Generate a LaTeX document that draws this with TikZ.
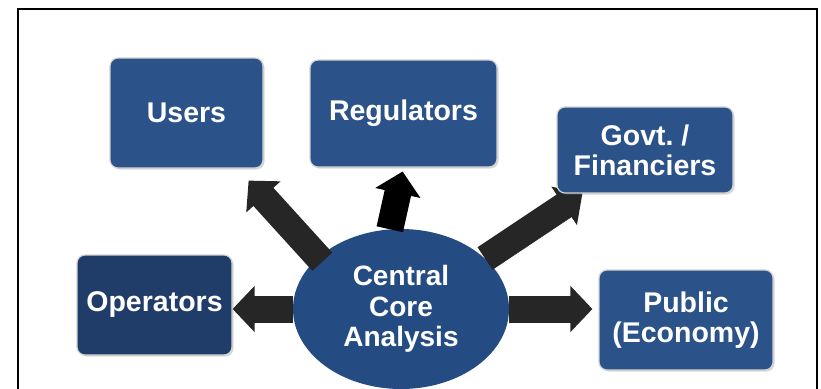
\documentclass[tikz,border=0pt]{standalone}
\usepackage{fontspec}
\setmainfont{Liberation Sans}
\usetikzlibrary{arrows.meta,backgrounds,calc,shadows,shapes.geometric}

\definecolor{partyblue}{HTML}{2B5289}
\definecolor{partydark}{HTML}{203C68}
\definecolor{coreblue}{HTML}{244C82}
\definecolor{shaftgray}{HTML}{262626}

\tikzset{%
  every party/.style={
    rectangle,
    rounded corners=8pt,
    draw=gray!35,
    line width=1.2pt,
    fill=partyblue,
    text=white,
    align=center,
    inner sep=0pt,
    font=\fontsize{28.5}{30}\selectfont\bfseries\frenchspacing,
    drop shadow={shadow xshift=1.5pt, shadow yshift=-1.5pt, opacity=0.3}
  },
  party dark/.style={
    fill=partydark
  },
  core hub/.style={
    ellipse,
    fill=coreblue,
    text=white,
    align=center,
    inner sep=0pt,
    minimum width=216pt,
    minimum height=160pt,
    font=\fontsize{28}{30.5}\selectfont\bfseries
  },
  fat arrow/.style={
    line width=27pt,
    draw=shaftgray,
    -{Triangle[width=45pt,length=22pt]}
  },
}

\begin{document}
\begin{tikzpicture}[x=1pt, y=-1pt]

\useasboundingbox (0,0) rectangle (821,388);

% frame
\draw [line width=2pt] (18,390) -- (18,9) -- (817,9) -- (817,390);

% stakeholders
\node [every party, minimum width=153pt, minimum height=110pt] (users) at (186.5,113) {Users};
\node [every party, minimum width=187pt, minimum height=107pt] (regulators) at (403.5,113.5) {Regulators};
\node [every party, minimum width=176pt, minimum height=86pt] (govt) at (645,150) {Govt. /\\Financiers};
\node [every party, party dark, minimum width=155pt, minimum height=100pt] (operators) at (154.5,305) {Operators};
\node [every party, minimum width=174pt, minimum height=100pt] (public) at (686,320) {Public\\(Economy)};

\begin{scope}[on background layer]
  \node [core hub] (core) at (401,309) {Central\\Core\\Analysis};

  \draw [fat arrow, shorten <=-6pt] (core.148) -- ($(users.south east)+(-15,12)$);
  \draw [fat arrow, draw=black, shorten >=4pt] (core.98) -- (regulators.south);
  \draw [fat arrow] (core.31) -- ($(govt.south west)+(26,0)$);
  \draw [fat arrow] (core.west) -- (core.west -| operators.east);
  \draw [fat arrow, shorten >=6pt] (core.east) -- (core.east -| public.west);
\end{scope}

\end{tikzpicture}
\end{document}
